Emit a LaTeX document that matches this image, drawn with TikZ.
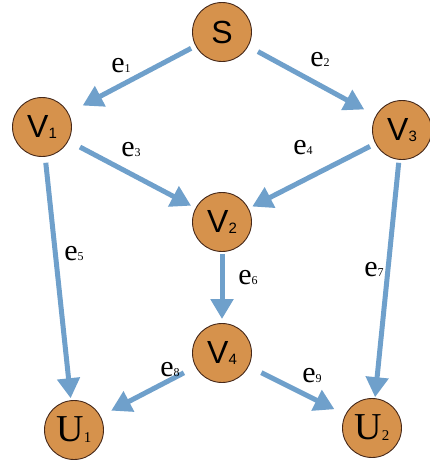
\documentclass[tikz,border=0pt]{standalone}
\usepackage{fontspec}
\setmainfont{Liberation Serif}
\newfontfamily\arialf{Liberation Sans}
\usetikzlibrary{arrows.meta}
\definecolor{nodefill}{RGB}{214,146,76}
\definecolor{nodeedge}{RGB}{70,40,25}
\definecolor{arrowc}{RGB}{111,160,203}
\tikzset{
  vtx/.style={circle, draw=nodeedge, line width=0.9pt, fill=nodefill, minimum size=59pt, inner sep=0pt},
  arr/.style={draw=arrowc, line width=5pt, -{Triangle[length=20pt,width=22pt]}},
  elab/.style={inner sep=0pt, font=\fontsize{30}{30}\selectfont}
}
\newcommand{\sv}[2]{{\arialf\fontsize{32}{32}\selectfont #1\raisebox{-1pt}{\fontsize{15}{15}\selectfont #2}}}
\newcommand{\su}[2]{{\fontsize{38}{38}\selectfont #1\raisebox{-1pt}{\fontsize{15}{15}\selectfont #2}}}
\newcommand{\se}[1]{e\raisebox{0pt}{\fontsize{12}{12}\selectfont #1}}
\begin{document}
\begin{tikzpicture}[x=1pt,y=-1pt]
\useasboundingbox (0,0) rectangle (430,461);
\node[vtx] (S)  at (222,32)  {{\arialf\fontsize{32}{32}\selectfont S}};
\node[vtx] (V1) at (42,127)  {\sv{V}{1}};
\node[vtx] (V3) at (402,130) {\sv{V}{3}};
\node[vtx] (V2) at (222,222) {\sv{V}{2}};
\node[vtx] (V4) at (222,353) {\sv{V}{4}};
\node[vtx] (U1) at (74,430)  {\su{U}{1}};
\node[vtx] (U2) at (372,428) {\su{U}{2}};

\draw[arr, shorten <=5pt, shorten >=16pt] (S) -- (V1);
\draw[arr, shorten <=11pt, shorten >=13pt] (S) -- (V3);
\draw[arr, shorten <=13pt, shorten >=5pt] (V1) -- (V2);
\draw[arr, shorten <=6pt, shorten >=4pt] (V3) -- (V2);
\draw[arr, shorten <=6pt, shorten >=2pt] (V1) -- (U1);
\draw[arr, shorten <=3pt, shorten >=1pt] (V3) -- (U2);
\draw[arr, shorten <=2pt, shorten >=4pt] (V2) -- (V4);
\draw[arr, shorten <=13pt, shorten >=12pt] (V4) -- (U1);
\draw[arr, shorten <=14pt, shorten >=12pt] (V4) -- (U2);

\node[elab] (l1) at (121,66)  {\se{1}};
\node[elab] (l2) at (320,60)  {\se{2}};
\node[elab] (l3) at (131,150) {\se{3}};
\node[elab] (l4) at (303,148) {\se{4}};
\node[elab] (l5) at (74,254)  {\se{5}};
\node[elab] (l6) at (248,278) {\se{6}};
\node[elab] (l7) at (374,270) {\se{7}};
\node[elab] (l8) at (170,370) {\se{8}};
\node[elab] (l9) at (312,376) {\se{9}};
\end{tikzpicture}
\end{document}
